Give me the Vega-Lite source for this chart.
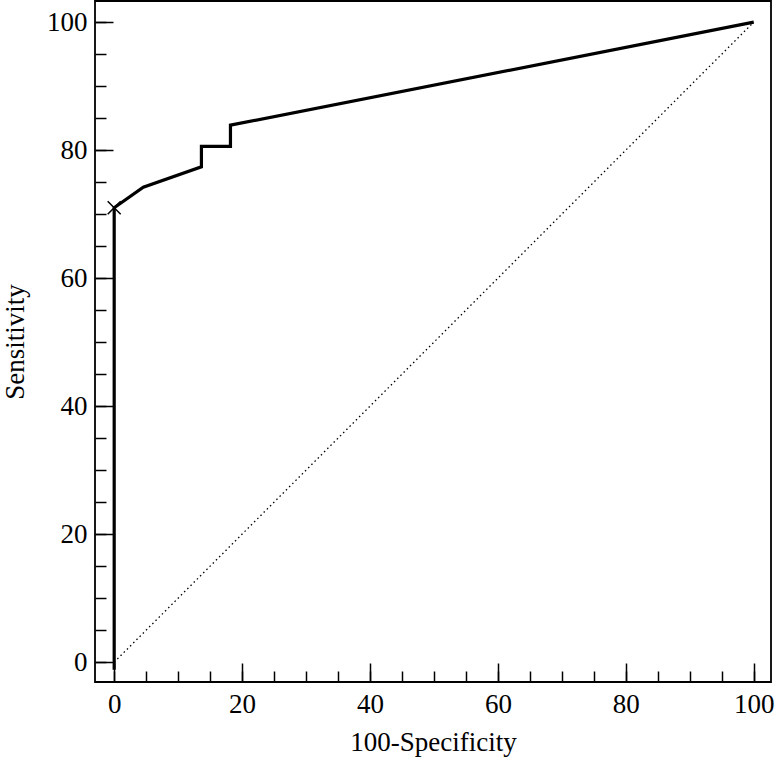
{
  "$schema": "https://vega.github.io/schema/vega-lite/v6.json",
  "width": 676,
  "height": 681,
  "autosize": {"type": "none"},
  "padding": {"left": 95, "top": 1, "right": 5, "bottom": 78},
  "background": "white",
  "config": {
    "view": {"stroke": "black", "strokeWidth": 1.8},
    "font": "Liberation Serif",
    "axis": {
      "domain": false, "grid": false, "tickColor": "black", "tickWidth": 1.5,
      "labelFont": "Liberation Serif", "labelFontSize": 27, "labelColor": "black",
      "titleFont": "Liberation Serif", "titleFontSize": 27, "titleFontWeight": "normal", "titleColor": "black"
    }
  },
  "datasets": {
    "diag": [{"x": 0, "y": 0}, {"x": 100, "y": 100}],
    "roc": [
      {"i": 0, "x": 0, "y": -1.2},
      {"i": 1, "x": 0, "y": 71.0},
      {"i": 2, "x": 4.55, "y": 74.2},
      {"i": 3, "x": 13.64, "y": 77.4},
      {"i": 4, "x": 13.64, "y": 80.6},
      {"i": 5, "x": 18.18, "y": 80.6},
      {"i": 6, "x": 18.18, "y": 83.9},
      {"i": 7, "x": 100, "y": 100}
    ],
    "cut": [{"x": 0, "y": 71.0}]
  },
  "layer": [
    {
      "data": {"name": "diag"},
      "mark": {"type": "line", "color": "black", "strokeWidth": 1.3, "strokeDash": [1.5, 3]},
      "encoding": {
        "x": {"field": "x", "type": "quantitative", "scale": {"domain": [-3, 102.7], "nice": false, "zero": false},
              "axis": {"orient": "bottom", "values": [0,5,10,15,20,25,30,35,40,45,50,55,60,65,70,75,80,85,90,95,100], "tickSize": -11, "labels": false, "title": null}},
        "y": {"field": "y", "type": "quantitative", "scale": {"domain": [-3.1, 103.3], "nice": false, "zero": false},
              "axis": {"orient": "left", "values": [0,5,10,15,20,25,30,35,40,45,50,55,60,65,70,75,80,85,90,95,100], "tickSize": -11, "labels": false, "title": null}}
      }
    },
    {
      "data": {"name": "roc"},
      "mark": {"type": "line", "color": "black", "strokeWidth": 3.2, "strokeJoin": "miter"},
      "encoding": {
        "x": {"field": "x", "type": "quantitative",
              "axis": {"orient": "bottom", "values": [0,20,40,60,80,100], "tickSize": -19, "labelPadding": 28, "title": "100-Specificity", "titlePadding": 12}},
        "y": {"field": "y", "type": "quantitative",
              "axis": {"orient": "left", "values": [0,20,40,60,80,100], "tickSize": -18, "labelPadding": 26, "title": "Sensitivity", "titlePadding": 17}},
        "order": {"field": "i", "type": "quantitative"}
      }
    },
    {
      "data": {"name": "cut"},
      "mark": {"type": "point", "shape": "M-1,-1L1,1M1,-1L-1,1", "size": 169, "filled": false, "stroke": "black", "strokeWidth": 1.5, "opacity": 1},
      "encoding": {
        "x": {"field": "x", "type": "quantitative", "axis": null},
        "y": {"field": "y", "type": "quantitative", "axis": null}
      }
    }
  ],
  "resolve": {"axis": {"x": "independent", "y": "independent"}}
}
